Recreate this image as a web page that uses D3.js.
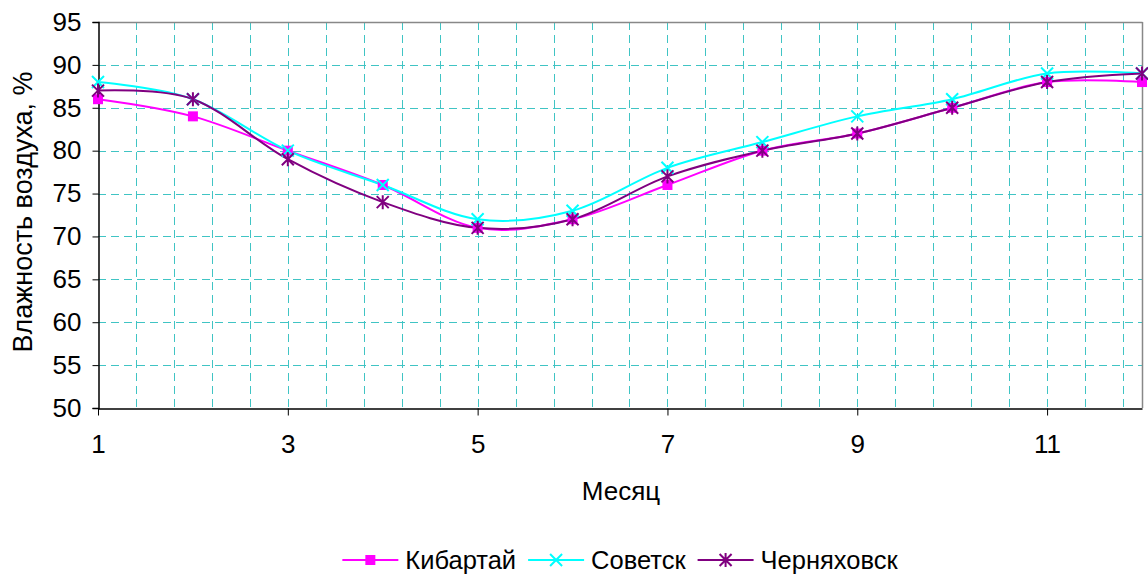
<!DOCTYPE html>
<html><head><meta charset="utf-8">
<script src="https://cdn.jsdelivr.net/npm/d3@7"></script>
<style>body{margin:0;background:#fff}svg{display:block}text{font-family:"Liberation Sans",Arial,sans-serif;fill:#000}</style>
</head><body>
<svg id="c" width="1148" height="576"></svg>
<script>
const months = [1,2,3,4,5,6,7,8,9,10,11,12];
const kibartai = [86,84,80,76,71,72,76,80,82,85,88,88];
const sovetsk = [88,86,80,76,72,73,78,81,84,86,89,89];
const chernyakhovsk = [87,86,79,74,71,72,77,80,82,85,88,89];
const yTicks = [50,55,60,65,70,75,80,85,90,95];
const xTicks = [1,3,5,7,9,11];
const seriesNames = ["Кибартай","Советск","Черняховск"];
const seriesData = [kibartai, sovetsk, chernyakhovsk];
const colors = ["#FF00FF","#00FFFF","#800080"];
const markers = ["square","x","star"];

const FS = "26px";
const svg = d3.select("#c");
const L=98, R=1142, T=22, B=408;
const x = d3.scaleLinear().domain([1,12]).range([L,R]);
const y = d3.scaleLinear().domain([50,95]).range([B,T]);

// grid
const grid = svg.append("g").attr("stroke","#40C4C4").attr("stroke-width",1).attr("stroke-dasharray","8,5");
yTicks.filter(v=>v>50 && v<95).forEach(v=>{
  grid.append("line").attr("x1",L).attr("x2",R).attr("y1",Math.round(y(v))+0.5).attr("y2",Math.round(y(v))+0.5);
});
d3.range(1.4, 12, 0.4).forEach(v=>{
  if (v > 11.95) return;
  grid.append("line").attr("x1",Math.round(x(v))+0.5).attr("x2",Math.round(x(v))+0.5).attr("y1",T).attr("y2",B);
});
// frame
svg.append("line").attr("x1",L).attr("x2",R+0.5).attr("y1",T+0.5).attr("y2",T+0.5).attr("stroke","#888").attr("stroke-width",1.5);
svg.append("line").attr("x1",R+0.5).attr("x2",R+0.5).attr("y1",T).attr("y2",B).attr("stroke","#888").attr("stroke-width",1.5);

// axes
const yAxis = d3.axisLeft(y).tickValues(yTicks).tickSize(6).tickPadding(11);
const gy = svg.append("g").attr("transform",`translate(${L+0.5},0)`).call(yAxis);
gy.attr("font-size",null).attr("font-family",null);
gy.select(".domain").attr("stroke","#000").attr("stroke-width",1.5);
gy.selectAll("text").style("font-size",FS);
const xAxis = d3.axisBottom(x).tickValues(xTicks).tickSize(7).tickPadding(19).tickSizeOuter(0);
const gx = svg.append("g").attr("transform",`translate(0,${B+0.5})`).call(xAxis);
gx.attr("font-size",null).attr("font-family",null);
gx.select(".domain").attr("stroke","#000").attr("stroke-width",1.5);
gx.selectAll("text").style("font-size",FS);

// titles
svg.append("text").attr("x",621).attr("y",500).attr("text-anchor","middle").style("font-size","26px").text("Месяц");
svg.append("text").attr("transform","translate(32,212) rotate(-90)").attr("text-anchor","middle").style("font-size","27px").text("Влажность воздуха, %");

function drawMarker(g, type, cx, cy, color){
  if(type==="square"){
    g.append("rect").attr("x",cx-5).attr("y",cy-5).attr("width",10).attr("height",10).attr("fill",color);
  } else if(type==="x"){
    g.append("path").attr("d",`M${cx-6},${cy-6}L${cx+6},${cy+6}M${cx-6},${cy+6}L${cx+6},${cy-6}`).attr("stroke",color).attr("stroke-width",2).attr("fill","none");
  } else {
    g.append("path").attr("d",`M${cx-6},${cy-6}L${cx+6},${cy+6}M${cx-6},${cy+6}L${cx+6},${cy-6}M${cx},${cy-7}L${cx},${cy+7}`).attr("stroke",color).attr("stroke-width",2).attr("fill","none");
  }
}

const line = d3.line().x((d,i)=>x(months[i])).y(d=>y(d)).curve(d3.curveCatmullRom.alpha(0));
seriesData.forEach((s,k)=>{
  svg.append("path").attr("d",line(s)).attr("fill","none").attr("stroke",colors[k]).attr("stroke-width",2);
});
seriesData.forEach((s,k)=>{
  const g = svg.append("g");
  s.forEach((v,i)=>drawMarker(g, markers[k], x(months[i]), y(v), colors[k]));
});

// legend (laid out from measured text widths, centred)
const ly = 560, segW = 56, gapT = 7, gapI = 12;
const leg = svg.append("g");
const items = seriesNames.map((n,k)=>{
  const g = leg.append("g");
  g.append("line").attr("x1",0).attr("x2",segW).attr("y1",ly).attr("y2",ly).attr("stroke",colors[k]).attr("stroke-width",2);
  drawMarker(g, markers[k], segW/2, ly, colors[k]);
  const t = g.append("text").attr("x",segW+gapT).attr("y",ly+9).style("font-size","25.5px").text(n);
  return {g, w: segW+gapT+t.node().getComputedTextLength()};
});
const total = d3.sum(items, d=>d.w) + gapI*(items.length-1);
let cx = 620 - total/2;
items.forEach(it=>{ it.g.attr("transform",`translate(${cx},0)`); cx += it.w + gapI; });
</script>
</body></html>
